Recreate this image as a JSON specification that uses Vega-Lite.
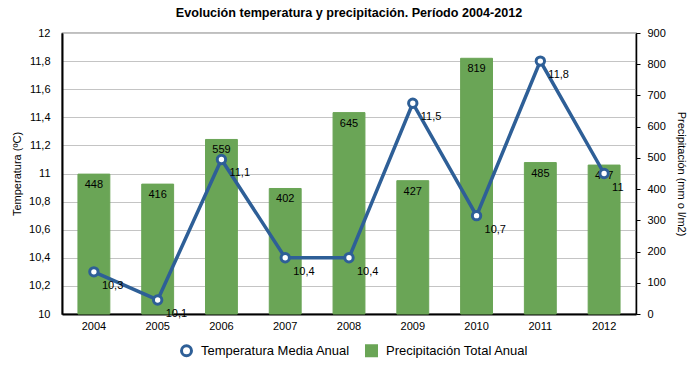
{
  "$schema": "https://vega.github.io/schema/vega-lite/v6.json",
  "width": 574,
  "height": 281,
  "autosize": {"type": "none"},
  "padding": {"left": 62, "top": 33, "right": 64, "bottom": 52},
  "background": "white",
  "config": {
    "locale": {"number": {"decimal": ",", "thousands": ".", "grouping": [3], "currency": ["", " €"]}},
    "font": "Liberation Sans",
    "view": {"stroke": "#000", "strokeWidth": 1.2},
    "axis": {"labelFont": "Liberation Sans", "titleFont": "Liberation Sans", "labelColor": "#000", "titleColor": "#000", "labelFontSize": 11, "titleFontSize": 11, "titleFontWeight": "normal", "labelOverlap": false}
  },
  "title": {"text": "Evolución temperatura y precipitación. Período 2004-2012", "fontSize": 12.6, "fontWeight": "bold", "font": "Liberation Sans", "anchor": "middle", "offset": 7, "color": "#000"},
  "data": {"values": [
    {"year": "2004", "temp": 10.3, "prec": 448},
    {"year": "2005", "temp": 10.1, "prec": 416},
    {"year": "2006", "temp": 11.1, "prec": 559},
    {"year": "2007", "temp": 10.4, "prec": 402},
    {"year": "2008", "temp": 10.4, "prec": 645},
    {"year": "2009", "temp": 11.5, "prec": 427},
    {"year": "2010", "temp": 10.7, "prec": 819},
    {"year": "2011", "temp": 11.8, "prec": 485},
    {"year": "2012", "temp": 11.0, "prec": 477}
  ]},
  "encoding": {
    "x": {"field": "year", "type": "ordinal", "scale": {"paddingInner": 0.5, "paddingOuter": 0.25},
      "axis": {"title": null, "labelAngle": 0, "ticks": false, "labelPadding": 6, "domainColor": "#000", "domainWidth": 2, "labelFontSize": 11}}
  },
  "layer": [
    {
      "encoding": {
        "y": {"field": "prec", "type": "quantitative", "scale": {"domain": [0, 900], "nice": false},
          "axis": {"orient": "right", "title": "Precipitación (mm o l/m2)", "grid": false, "values": [0,100,200,300,400,500,600,700,800,900], "labelOverlap": false, "labelBound": false, "tickSize": 4, "tickColor": "#000", "domainColor": "#000", "domainWidth": 1.5, "labelPadding": 7, "titlePadding": 10}}
      },
      "layer": [
        {
          "mark": {"type": "bar", "strokeWidth": 1},
          "encoding": {
            "fill": {"datum": "Precipitación Total Anual", "type": "nominal"},
            "stroke": {"datum": "Precipitación Total Anual", "type": "nominal"}
          }
        },
        {
          "mark": {"type": "text", "baseline": "middle", "dy": 11, "fontSize": 11, "color": "#000"},
          "encoding": {
            "text": {"field": "prec", "type": "quantitative"}
          }
        }
      ]
    },
    {
      "encoding": {
        "y": {"field": "temp", "type": "quantitative", "scale": {"domain": [10, 12], "nice": false, "zero": false},
          "axis": {"orient": "left", "title": "Temperatura (ºC)", "values": [10,10.2,10.4,10.6,10.8,11,11.2,11.4,11.6,11.8,12], "labelOverlap": false, "labelBound": false, "format": "~g", "grid": true, "gridColor": "#c4c4c4", "gridWidth": 1, "ticks": false, "domainColor": "#000", "domainWidth": 2, "labelPadding": 12, "titlePadding": 6, "zindex": 0}}
      },
      "layer": [
        {
          "mark": {"type": "line", "strokeWidth": 3.5},
          "encoding": {
            "stroke": {"datum": "Temperatura Media Anual", "type": "nominal",
              "scale": {"domain": ["Temperatura Media Anual", "Precipitación Total Anual"], "range": ["#2e5f97", "#6aa556"]},
              "legend": {"orient": "none", "legendX": 118, "legendY": 311, "direction": "horizontal", "title": null, "labelFontSize": 13, "labelFont": "Liberation Sans", "labelColor": "#000", "labelOffset": 8, "columnPadding": 10, "symbolSize": 100, "symbolStrokeWidth": 3, "symbolOpacity": 1,
                "encode": {"symbols": {"update": {
                  "shape": {"signal": "datum.value === 'Precipitación Total Anual' ? 'square' : 'circle'"}
                }}}}}
          }
        },
        {
          "mark": {"type": "point", "filled": true, "strokeWidth": 3, "size": 70, "opacity": 1},
          "encoding": {
            "fill": {"datum": "Temperatura Media Anual", "type": "nominal",
              "scale": {"domain": ["Temperatura Media Anual", "Precipitación Total Anual"], "range": ["#ffffff", "#6aa556"]},
              "legend": {"orient": "none", "legendX": 118, "legendY": 311, "direction": "horizontal", "title": null, "labelFontSize": 13, "labelFont": "Liberation Sans", "labelColor": "#000", "labelOffset": 8, "columnPadding": 10, "symbolSize": 100, "symbolStrokeWidth": 3, "symbolOpacity": 1,
                "encode": {"symbols": {"update": {
                  "shape": {"signal": "datum.value === 'Precipitación Total Anual' ? 'square' : 'circle'"}
                }}}}},
            "stroke": {"datum": "Temperatura Media Anual", "type": "nominal"}
          }
        },
        {
          "mark": {"type": "text", "align": "left", "baseline": "middle", "dx": 8, "dy": 14, "fontSize": 11, "color": "#000"},
          "encoding": {
            "text": {"field": "temp", "type": "quantitative", "format": "~g"}
          }
        }
      ]
    }
  ],
  "resolve": {"scale": {"y": "independent"}}
}
